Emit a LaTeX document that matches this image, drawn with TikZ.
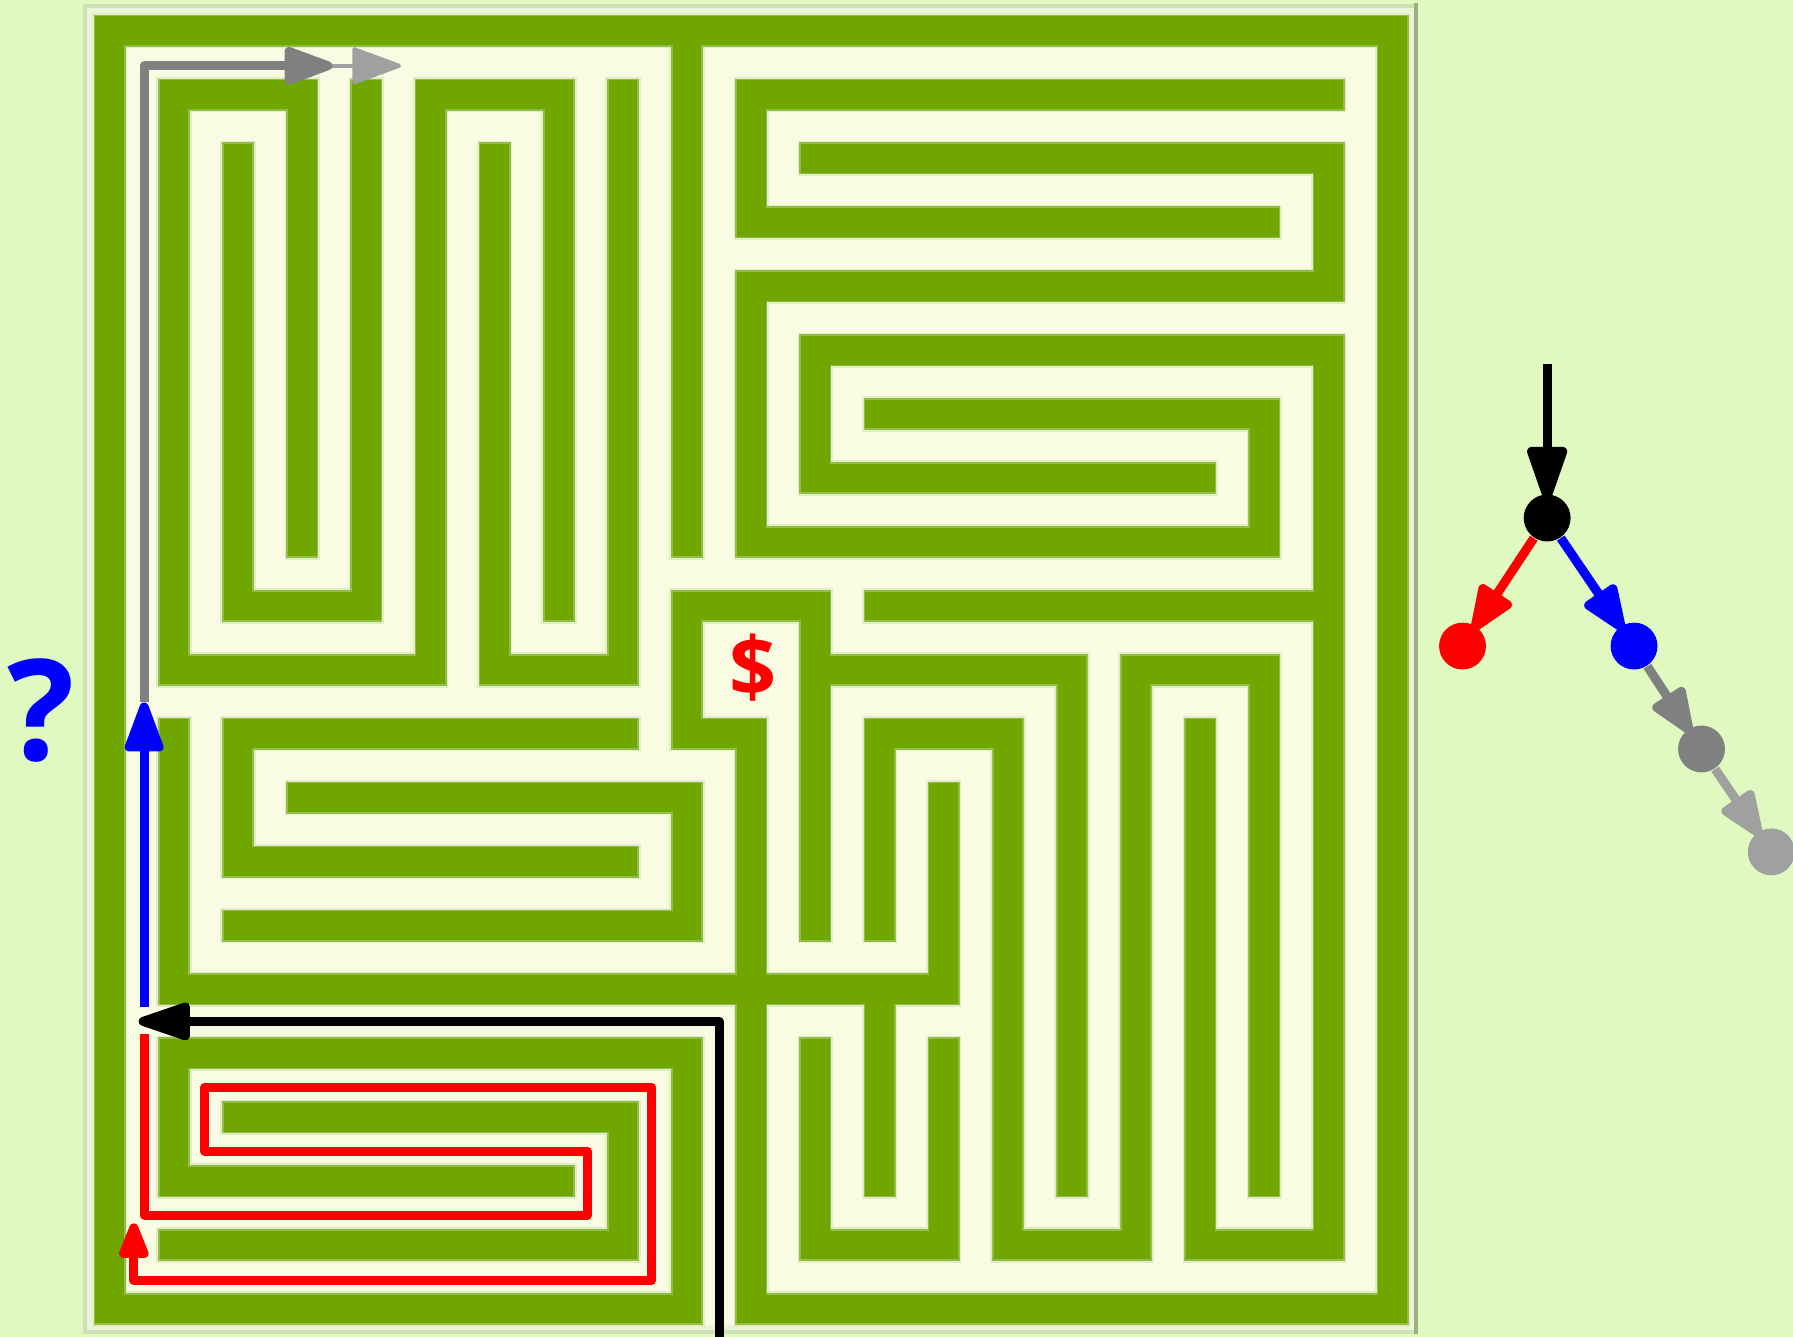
\documentclass[tikz,border=0pt]{standalone}
\usepackage{fontspec}
\setmainfont{Open Sans}
\usetikzlibrary{arrows.meta}
\definecolor{bg}{HTML}{E0F9C0}
\definecolor{cream}{HTML}{F9FCE2}
\definecolor{wallc}{HTML}{70A600}
\definecolor{wallrim}{HTML}{92BE48}
\definecolor{wallhalo}{HTML}{E2EDC8}
\definecolor{framelt}{HTML}{D0E1B8}
\definecolor{framedk}{HTML}{9DB080}
\definecolor{framein}{HTML}{EAF5D8}
\definecolor{pgray}{HTML}{808080}
\definecolor{plgray}{HTML}{A0A0A0}
\definecolor{pblue}{HTML}{0000FF}
\definecolor{pred}{HTML}{FF0000}
\newcommand\mazewallgeom{%
 (10,20)--(20,20)--(20,0)--(0,0)--(0,20)--(9,20)
 (9,0)--(9,8)
 (19,1)--(10,1)--(10,3)--(18,3)
 (11,2)--(19,2)--(19,4)--(10,4)--(10,8)--(18,8)--(18,6)--(12,6)
 (17,7)--(11,7)--(11,5)--(19,5)--(19,19)--(17,19)--(17,11)
 (12,9)--(19,9)
 (3,8)--(3,1)--(1,1)--(1,10)--(5,10)--(5,1)--(7,1)--(7,9)
 (2,2)--(2,9)--(4,9)--(4,1)
 (6,2)--(6,10)--(8,10)--(8,1)
 (11,14)--(11,9)--(9,9)--(9,11)--(10,11)--(10,20)
 (11,10)--(15,10)--(15,18)
 (12,14)--(12,11)--(14,11)--(14,19)--(16,19)--(16,10)--(18,10)--(18,18)
 (1,11)--(1,15)--(13,15)--(13,12)
 (12,15)--(12,18)
 (11,16)--(11,19)--(13,19)--(13,16)
 (8,11)--(2,11)--(2,13)--(8,13)
 (3,12)--(9,12)--(9,14)--(2,14)
 (9,20)--(9,16)--(1,16)--(1,18)--(7,18)
 (2,17)--(8,17)--(8,19)--(1,19)}
\begin{document}
\begin{tikzpicture}[x=0.1mm, y=-0.1mm,
  halo/.style={draw=wallhalo, line width=3.1mm, line cap=rect, line join=miter},
  rim/.style={draw=wallrim, line width=2.8mm, line cap=rect, line join=miter},
  wall/.style={draw=wallc, line width=2.5mm, line cap=rect, line join=miter},
  mpath/.style={line width=0.78mm, line join=round},
  dot/.style={circle, minimum size=4.1mm, inner sep=0pt},
  tedge/.style={line width=0.8mm, shorten >=-0.5mm},
]
\useasboundingbox (0,0) rectangle (1568,1169);
\fill[bg] (0,0) rectangle (1568,1169);
% frame
\fill[framein] (74,5) rectangle (1238,1165);
\draw[framelt, line width=0.35mm] (1238,1165) -- (74,1165) -- (74,5) -- (1238,5);
\draw[framedk, line width=0.35mm] (1238,3) -- (1238,1167);
\fill[cream] (82,12.8) rectangle (1232.5,1158.7);
% maze
\begin{scope}[xshift=9.6mm, yshift=-2.68mm, x=5.61mm, y=-5.59mm]
  \draw[halo] \mazewallgeom;
  \draw[rim] \mazewallgeom;
  \draw[wall] \mazewallgeom;
  \coordinate (gS) at (0.536,10.5);
  \coordinate (gC) at (0.536,0.55);
  \coordinate (gE) at (3.47,0.55);
  \coordinate (lgS) at (3.3,0.55);
  \coordinate (lgE) at (4.54,0.55);
  \coordinate (bS) at (0.536,15.27);
  \coordinate (bE) at (0.536,10.51);
  \coordinate (kS) at (9.5,20.8);
  \coordinate (kC) at (9.5,15.5);
  \coordinate (kE) at (0.45,15.5);
  \coordinate (rS) at (0.536,15.7);
  \coordinate (r1) at (0.536,18.53);
  \coordinate (r2) at (7.45,18.53);
  \coordinate (r3) at (7.45,17.53);
  \coordinate (r4) at (1.48,17.53);
  \coordinate (r5) at (1.48,16.53);
  \coordinate (r6) at (8.45,16.53);
  \coordinate (r7) at (8.45,19.55);
  \coordinate (r8) at (0.375,19.55);
  \coordinate (rE) at (0.375,18.66);
  \draw[plgray, line width=0.35mm, -{Triangle[round, length=4.6mm, width=3.3mm]}] (lgS) -- (lgE);
  \draw[mpath, pgray, -{Triangle[round, length=5.0mm, width=3.4mm]}] (gS) -- (gC) -- (gE);
  \draw[mpath, pblue, -{Triangle[round, length=5.1mm, width=3.5mm]}] (bS) -- (bE);
  \draw[mpath, black, -{Triangle[round, length=5.4mm, width=3.4mm]}] (kS) -- (kC) -- (kE);
  \draw[mpath, pred, -{Triangle[round, length=3.8mm, width=2.7mm]}] (rS) -- (r1) -- (r2) -- (r3) -- (r4) -- (r5) -- (r6) -- (r7) -- (r8) -- (rE);
\end{scope}
% labels
\node[text=pblue, font=\bfseries\fontsize{35}{35}\selectfont, inner sep=0pt] (qm) at (36,621) {?};
\node[text=pred, font=\bfseries\fontsize{20.5}{20.5}\selectfont, inner sep=0pt] (dollar) at (658.5,584) {\$};
% tree
\node[dot, fill=black] (nb) at (1353,453) {};
\node[dot, fill=pred] (nr) at (1279,565) {};
\node[dot, fill=pblue] (nbl) at (1429,565) {};
\node[dot, fill=pgray] (ng) at (1488,655) {};
\node[dot, fill=plgray] (nlg) at (1549,745) {};
\coordinate (tstart) at (1353,318);
\draw[black, line width=0.8mm, shorten >=-0.6mm, -{Triangle[round, length=5.6mm, width=3.6mm]}] (tstart) -- (nb);
\draw[tedge, pred, -{Triangle[round, length=4.7mm, width=3.5mm]}] (nb) -- (nr);
\draw[tedge, pblue, -{Triangle[round, length=4.7mm, width=3.5mm]}] (nb) -- (nbl);
\draw[tedge, pgray, -{Triangle[round, length=4.7mm, width=3.5mm]}] (nbl) -- (ng);
\draw[tedge, plgray, -{Triangle[round, length=4.7mm, width=3.5mm]}] (ng) -- (nlg);
\end{tikzpicture}
\end{document}
